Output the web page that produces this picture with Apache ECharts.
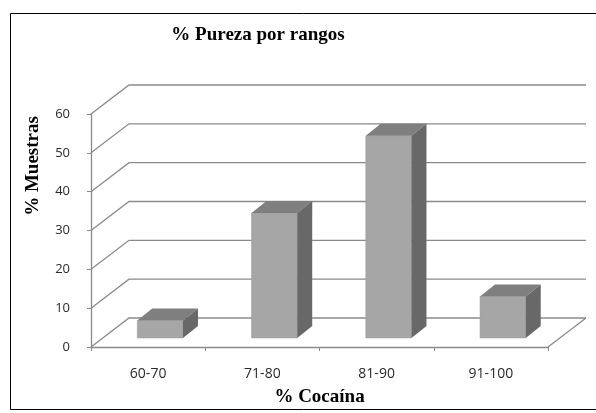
<!DOCTYPE html>
<html>
<head>
<meta charset="utf-8">
<script src="https://cdn.jsdelivr.net/npm/echarts@6/dist/echarts.min.js"></script>
<style>
  html, body { margin: 0; padding: 0; background: #fff; }
  #chart { width: 596px; height: 413px; }
</style>
</head>
<body>
<div id="chart"></div>
<script>
// datos
const categorias = ['60-70', '71-80', '81-90', '91-100'];
const muestras = [4.5, 32.2, 52.1, 10.7];
const ticksY = [0, 10, 20, 30, 40, 50, 60];

// profundidad del "3D" (px)
const FONDO_DX = 38, FONDO_DY = 29;   // pared del fondo
const BAR_SX = 12, BAR_SY = 9;         // desplazamiento de la cara frontal
const BAR_DX = 15, BAR_DY = 12;        // grosor de la barra

const LINEA = '#8a8a8a';

const chart = echarts.init(document.getElementById('chart'));

// paredes: líneas de rejilla en el lateral y el fondo
function pintaParedes(params, api) {
  const cs = params.coordSys;
  const p = api.coord([0, api.value(0)]);
  const y = p[1];
  const xl = cs.x, xr = cs.x + cs.width;
  const pts = [[xl, y], [xl + FONDO_DX, y - FONDO_DY], [xr + FONDO_DX, y - FONDO_DY]];
  const children = [{
    type: 'polyline',
    shape: { points: pts },
    style: { stroke: LINEA, lineWidth: 1.3, fill: null }
  }];
  if (api.value(0) === 0) {
    children.push({
      type: 'line',
      shape: { x1: xr, y1: y, x2: xr + FONDO_DX, y2: y - FONDO_DY },
      style: { stroke: LINEA, lineWidth: 1.3 }
    });
  }
  return { type: 'group', children: children };
}

// barras en falso 3D
function pintaBarra(params, api) {
  const base = api.coord([api.value(0), 0]);
  const tope = api.coord([api.value(0), api.value(1)]);
  const banda = api.size([1, 0])[0];
  const w = banda * 0.4;
  const cx = base[0] + BAR_SX;
  const x0 = cx - w / 2, x1 = cx + w / 2;
  const yb = base[1] - BAR_SY, yt = tope[1] - BAR_SY;
  return {
    type: 'group',
    children: [
      { type: 'rect', shape: { x: x0, y: yt, width: w, height: yb - yt },
        style: { fill: '#a6a6a6', stroke: '#9a9a9a', lineWidth: 0.5 } },
      { type: 'polygon', shape: { points: [[x0, yt], [x1, yt], [x1 + BAR_DX, yt - BAR_DY], [x0 + BAR_DX, yt - BAR_DY]] },
        style: { fill: '#7f7f7f' } },
      { type: 'polygon', shape: { points: [[x1, yt], [x1 + BAR_DX, yt - BAR_DY], [x1 + BAR_DX, yb - BAR_DY], [x1, yb]] },
        style: { fill: '#686868' } }
    ]
  };
}

const option = {
  animation: false,
  backgroundColor: '#fff',
  grid: { left: 91, right: 48, top: 114, bottom: 66, outerBoundsMode: 'none', containLabel: false },
  xAxis: {
    type: 'category',
    data: categorias,
    name: '% Cocaína',
    nameLocation: 'middle',
    nameGap: 41,
    nameTextStyle: { fontFamily: 'Liberation Serif', fontWeight: 'bold', fontSize: 19, color: '#000' },
    axisLine: { lineStyle: { color: LINEA, width: 1.3 } },
    axisTick: { show: true, length: 4, alignWithLabel: false, lineStyle: { color: LINEA } },
    axisLabel: { margin: 20, fontFamily: 'Open Sans', fontSize: 14, color: '#2a2a2a' },
    splitLine: { show: false }
  },
  yAxis: {
    type: 'value',
    min: 0, max: 60, interval: 10,
    axisLine: { show: true, lineStyle: { color: LINEA, width: 1.3 } },
    axisTick: { show: true, length: 4, lineStyle: { color: LINEA } },
    axisLabel: { margin: 21, fontFamily: 'Open Sans', fontSize: 13, color: '#2a2a2a' },
    splitLine: { show: false }
  },
  graphic: [
    { type: 'rect', shape: { x: 10.5, y: 13.5, width: 600, height: 396 },
      style: { fill: null, stroke: '#000', lineWidth: 1 }, z: 0 },
    { type: 'text', x: 258, y: 35,
      style: { text: '% Pureza por rangos', fontFamily: 'Liberation Serif', fontWeight: 'bold', fontSize: 19,
               fill: '#000', align: 'center', verticalAlign: 'middle' } },
    { type: 'text', x: 33, y: 166, rotation: Math.PI / 2,
      style: { text: '% Muestras', fontFamily: 'Liberation Serif', fontWeight: 'bold', fontSize: 19,
               fill: '#000', align: 'center', verticalAlign: 'middle' } }
  ],
  series: [
    {
      type: 'custom',
      z: 1,
      clip: false,
      silent: true,
      renderItem: pintaParedes,
      data: ticksY.map(function (v) { return [v]; }),
      encode: { y: 0 }
    },
    {
      type: 'custom',
      z: 3,
      clip: false,
      renderItem: pintaBarra,
      data: muestras.map(function (v, i) { return [i, v]; }),
      encode: { x: 0, y: 1 }
    }
  ]
};

chart.setOption(option);
</script>
</body>
</html>
